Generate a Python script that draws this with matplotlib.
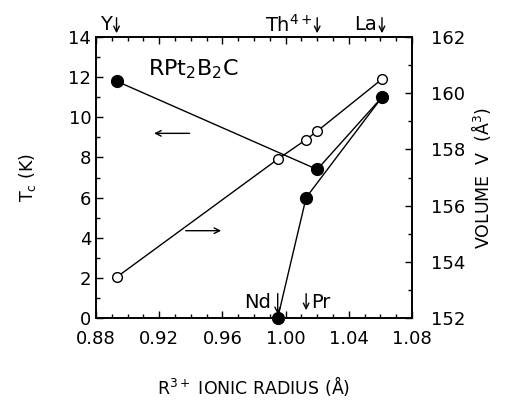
import matplotlib.pyplot as plt
from matplotlib.ticker import MultipleLocator

plt.rcParams['font.family'] = ['DejaVu Sans']

# R3+ ionic radius (Å) of the compounds
names = ['Y', 'Nd', 'Pr', 'Th', 'La']
radius = [0.893, 0.995, 1.013, 1.020, 1.061]
tc = [11.8, 0.0, 6.0, 7.4, 11.0]           # Tc (K), filled circles
volume = [153.45, 157.65, 158.35, 158.65, 160.5]  # unit cell volume (Å^3), open circles

# Tc lines: Y-Th-La and Nd-Pr-La
tc_paths = [['Y', 'Th', 'La'], ['Nd', 'Pr', 'La']]

fig = plt.figure(figsize=(5.24, 4.09), dpi=100)
ax = fig.add_axes([96 / 524, 1 - 318 / 409, 316 / 524, 281 / 409])
ax2 = ax.twinx()

idx = {n: i for i, n in enumerate(names)}
for path in tc_paths:
    xs = [radius[idx[n]] for n in path]
    ys = [tc[idx[n]] for n in path]
    ax.plot(xs, ys, color='black', lw=1)
ax.plot(radius, tc, 'o', color='black', ms=8.5, clip_on=False, zorder=5)

ax2.plot(radius, volume, '-o', color='black', lw=1, ms=7, mfc='white', mec='black', mew=1)

ax.set_xlim(0.88, 1.08)
ax.set_ylim(0, 14)
ax2.set_ylim(152, 162)

ax.xaxis.set_minor_locator(MultipleLocator(0.01))
ax.yaxis.set_major_locator(MultipleLocator(2))
ax.yaxis.set_minor_locator(MultipleLocator(1))
ax2.yaxis.set_major_locator(MultipleLocator(2))
ax2.yaxis.set_minor_locator(MultipleLocator(1))
ax.set_xticks([0.88, 0.92, 0.96, 1.00, 1.04, 1.08])
ax.set_xticklabels(['0.88', '0.92', '0.96', '1.00', '1.04', '1.08'])

ax.tick_params(which='both', direction='in', top=True, labelsize=13, width=1)
ax.tick_params(which='major', length=5)
ax.tick_params(which='minor', length=3)
ax.tick_params(axis='x', pad=9)
ax2.tick_params(which='both', direction='in', labelsize=13, width=1, pad=14)
ax2.tick_params(which='major', length=5)
ax2.tick_params(which='minor', length=3)
for a in (ax, ax2):
    for s in a.spines.values():
        s.set_linewidth(1.2)

ax.set_ylabel(r'T$_\mathregular{c}$ (K)', fontsize=12.5, labelpad=22)
ax2.set_ylabel(r'VOLUME  V  ($\mathregular{\AA^3}$)', fontsize=12.5, labelpad=2)
ax.set_xlabel(r'R$^{\mathregular{3+}}$ IONIC RADIUS ($\mathregular{\AA}$)', fontsize=12.5, labelpad=18)

ax.text(0.913, 12.4, r'RPt$_\mathregular{2}$B$_\mathregular{2}$C', fontsize=16, va='center')

# direction arrows pointing to the axes
ax.annotate('', xy=(0.915, 9.2), xytext=(0.941, 9.2),
            arrowprops=dict(arrowstyle='->', lw=1, color='black'))
ax.annotate('', xy=(0.961, 4.35), xytext=(0.935, 4.35),
            arrowprops=dict(arrowstyle='->', lw=1, color='black'))

# element markers on top
top_labels = [(0.893, 'Y'), (1.020, r'Th$^{\mathregular{4+}}$'), (1.061, 'La')]
for xv, lab in top_labels:
    ax.annotate('', xy=(xv, 14.05), xytext=(xv, 15.1), annotation_clip=False,
                arrowprops=dict(arrowstyle='->', lw=1, color='black'))
    ax.text(xv - 0.003, 14.6, lab, fontsize=14, ha='right', va='center')

# Nd and Pr markers
ax.annotate('', xy=(0.995, 0.05), xytext=(0.995, 1.35),
            arrowprops=dict(arrowstyle='->', lw=1, color='black'))
ax.text(0.991, 0.75, 'Nd', fontsize=14, ha='right', va='center')
ax.annotate('', xy=(1.013, 0.25), xytext=(1.013, 1.35),
            arrowprops=dict(arrowstyle='->', lw=1, color='black'))
ax.text(1.016, 0.75, 'Pr', fontsize=14, ha='left', va='center')

plt.savefig('out.png', dpi=100)
